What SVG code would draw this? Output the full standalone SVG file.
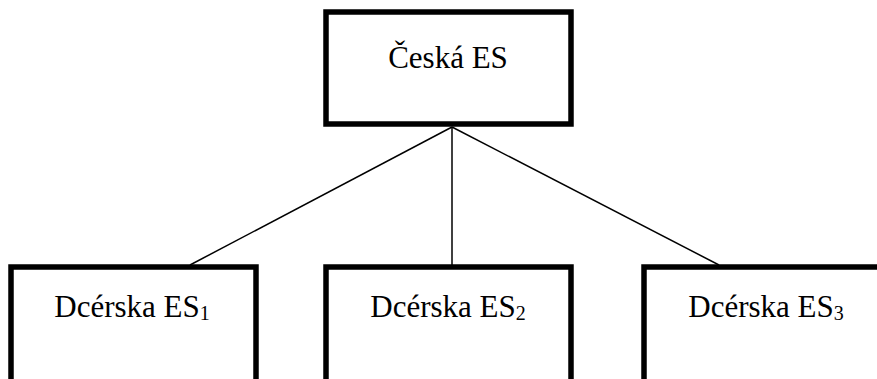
<svg xmlns="http://www.w3.org/2000/svg" width="877" height="379" viewBox="0 0 877 379">
<style>
.box{fill:#fff;stroke:#000;stroke-width:5.5}
.lbl{font-family:"Liberation Serif","Times New Roman",serif;font-size:31px;fill:#000;text-anchor:middle}
.sub{font-size:20px}
.con{stroke:#000;stroke-width:1.5;fill:none}
</style>
<rect width="877" height="379" fill="#fff"/>
<g id="connectors">
<line class="con" x1="452" y1="127" x2="190" y2="265"/>
<line class="con" x1="452" y1="127" x2="452" y2="265"/>
<line class="con" x1="452" y1="127" x2="719" y2="265"/>
</g>
<g id="ceska">
<rect class="box" x="326" y="12" width="245" height="112"/>
<text class="lbl" x="448" y="68">Česká ES</text>
</g>
<g id="dcerska1">
<rect class="box" x="11" y="267" width="245" height="130"/>
<text class="lbl" x="132" y="317">Dcérska ES<tspan class="sub" dy="3">1</tspan></text>
</g>
<g id="dcerska2">
<rect class="box" x="326" y="267" width="245" height="130"/>
<text class="lbl" x="448" y="317">Dcérska ES<tspan class="sub" dy="3">2</tspan></text>
</g>
<g id="dcerska3">
<rect class="box" x="644" y="267" width="245" height="130"/>
<text class="lbl" x="766" y="317">Dcérska ES<tspan class="sub" dy="3">3</tspan></text>
</g>
</svg>
